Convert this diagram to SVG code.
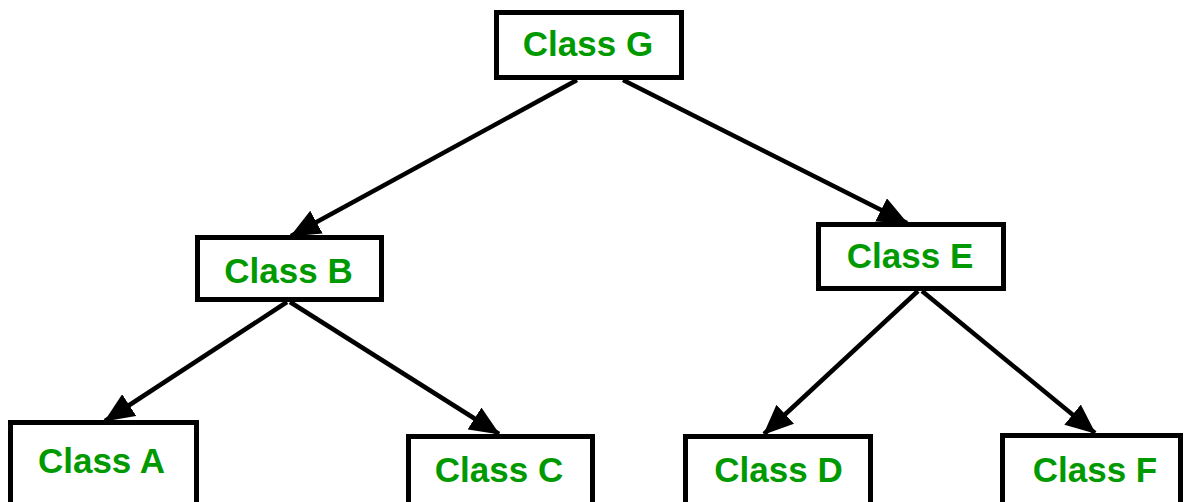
<svg xmlns="http://www.w3.org/2000/svg" width="1185" height="502" viewBox="0 0 1185 502">
<style>
.box{fill:#fff;stroke:#000;stroke-width:5}
.lbl{font-family:"Liberation Sans",Arial,sans-serif;font-weight:bold;font-size:35px;fill:#009a00;text-anchor:middle}
.edge{stroke:#000;stroke-width:4.5;fill:none;marker-end:url(#arr)}
</style>
<defs>
<marker id="arr" viewBox="0 0 30 26" refX="29" refY="13" markerWidth="30" markerHeight="26" markerUnits="userSpaceOnUse" orient="auto">
<path d="M0,0 L30,13 L0,26 z" fill="#000"/>
</marker>
</defs>
<rect width="1185" height="502" fill="#fff"/>
<g id="connectors">
<line class="edge" x1="577" y1="80" x2="291" y2="236"/>
<line class="edge" x1="623" y1="80" x2="907" y2="223"/>
<line class="edge" x1="287" y1="302" x2="105" y2="421"/>
<line class="edge" x1="290" y1="302" x2="499" y2="434"/>
<line class="edge" x1="918" y1="291" x2="764" y2="434"/>
<line class="edge" x1="922" y1="291" x2="1095" y2="433"/>
</g>
<g id="classG"><rect class="box" x="496.5" y="12.5" width="185" height="65"/><text class="lbl" x="588" y="56">Class G</text></g>
<g id="classB"><rect class="box" x="197.5" y="237.5" width="184" height="62"/><text class="lbl" x="288.5" y="283">Class B</text></g>
<g id="classE"><rect class="box" x="818.5" y="224.5" width="185" height="64"/><text class="lbl" x="910" y="268">Class E</text></g>
<g id="classA"><rect class="box" x="10.5" y="422.5" width="186" height="90"/><text class="lbl" x="101.5" y="473">Class A</text></g>
<g id="classC"><rect class="box" x="408.5" y="436.5" width="184" height="80"/><text class="lbl" x="499" y="482">Class C</text></g>
<g id="classD"><rect class="box" x="685.5" y="436.5" width="185" height="80"/><text class="lbl" x="778.5" y="482">Class D</text></g>
<g id="classF"><rect class="box" x="1002.5" y="435.5" width="178" height="80"/><text class="lbl" x="1095" y="482">Class F</text></g>
</svg>
